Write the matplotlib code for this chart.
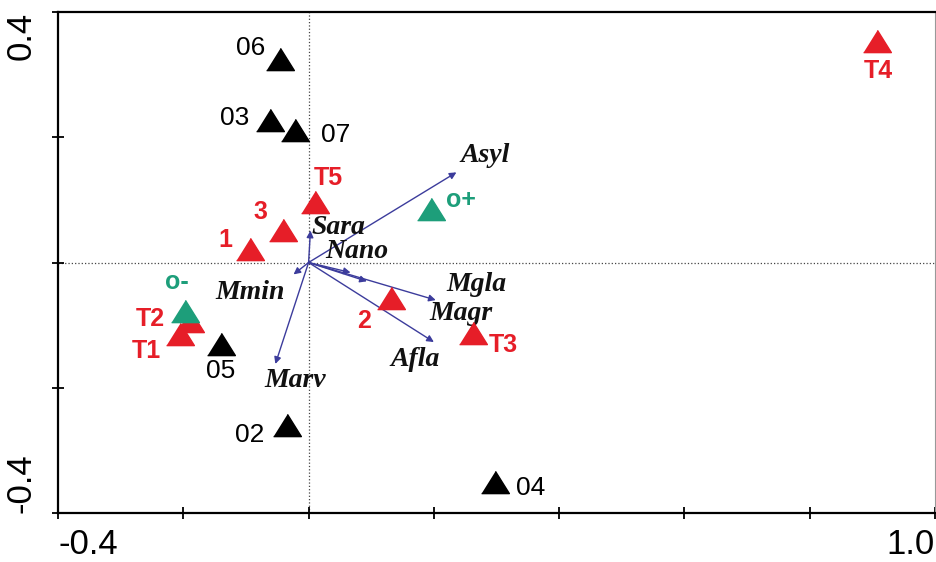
import matplotlib
matplotlib.use('Agg')
import matplotlib.pyplot as plt

# sample scores (axis 1, axis 2)
black_names = ['06', '03', '07', '05', '02', '04']
black_x = [-0.046, -0.061, -0.022, -0.140, -0.035, 0.298]
black_y = [0.325, 0.227, 0.211, -0.130, -0.260, -0.351]

red_names = ['T5', '3', '1', 'T2', 'T1', '2', 'T3', 'T4']
red_x = [0.010, -0.041, -0.093, -0.190, -0.206, 0.131, 0.262, 0.908]
red_y = [0.097, 0.052, 0.021, -0.094, -0.114, -0.056, -0.113, 0.354]

green_names = ['o+', 'o-']
green_x = [0.196, -0.198]
green_y = [0.086, -0.078]

# species arrows
species = ['Asyl', 'Sara', 'Nano', 'Magr', 'Mgla', 'Afla', 'Mmin', 'Marv']
sp_x = [0.236, 0.003, 0.067, 0.093, 0.203, 0.200, -0.024, -0.053]
sp_y = [0.144, 0.051, -0.016, -0.030, -0.060, -0.127, -0.019, -0.162]

# label offsets in pixels (layout only)
off = {'06': (-29, 11), '03': (-36, 2), '07': (41, -5), '05': (0, -27),
       '02': (-37, -10), '04': (35, -6), 'T5': (13, 24), '3': (-22, 18),
       '1': (-25, 9), 'T2': (-39, 2), 'T1': (-33, -17), '2': (-27, -23),
       'T3': (31, -12), 'T4': (1, -30), 'o+': (30, 9), 'o-': (-8, 29),
       'Asyl': (29, 17), 'Sara': (28, 3), 'Nano': (6, 21), 'Magr': (94, -32),
       'Mgla': (41, 16), 'Afla': (-19, -17), 'Mmin': (-43, -18), 'Marv': (20, -17)}

RED = '#e61e28'
GREEN = '#1d9e7a'
ARROW = '#3c3c9c'
tri = [(-1, -0.8), (1, -0.8), (0, 0.8)]

fig = plt.figure(figsize=(9.37, 5.62), dpi=100)
ax = fig.add_axes([0.0619, 0.0872, 0.936, 0.8914])
ax.set_xlim(-0.4, 1.0)
ax.set_ylim(-0.4, 0.4)

ax.axhline(0, color='#444444', lw=0.9, ls=':', zorder=1)
ax.axvline(0, color='#444444', lw=0.9, ls=':', zorder=1)

for name, x, y in zip(species, sp_x, sp_y):
    ax.annotate('', xy=(x, y), xytext=(0, 0),
                arrowprops=dict(arrowstyle='-|>', color=ARROW, lw=1.0,
                                mutation_scale=10, shrinkA=0, shrinkB=0),
                zorder=2)
    ax.annotate(name, xy=(x, y), xytext=off[name], textcoords='offset pixels',
                ha='center', va='center', fontsize=20, family='Liberation Serif',
                style='italic', weight='bold', color='#111111', zorder=3)


def draw_group(names, xs, ys, color, bold):
    ax.plot(xs, ys, ls='none', marker=tri, ms=20, color=color, mec=color, zorder=4)
    for n, x, y in zip(names, xs, ys):
        ax.annotate(n, xy=(x, y), xytext=off[n], textcoords='offset pixels',
                    ha='center', va='center', fontsize=19 if not bold else 18,
                    family='Liberation Sans',
                    weight='bold' if bold else 'normal', color=color, zorder=5)


draw_group(black_names, black_x, black_y, 'black', False)
draw_group(red_names, red_x, red_y, RED, True)
draw_group(green_names, green_x, green_y, GREEN, True)

ax.set_xticks([-0.4, -0.2, 0, 0.2, 0.4, 0.6, 0.8, 1.0])
ax.set_xticklabels(['-0.4', '', '', '', '', '', '', '1.0'])
ax.set_yticks([-0.4, -0.2, 0, 0.2, 0.4])
ax.set_yticklabels(['-0.4', '', '', '', '0.4'], rotation=90)
ax.tick_params(direction='inout', length=9, width=1.3, labelsize=25, pad=10)
ax.tick_params(axis='x', pad=6)
xl = ax.get_xticklabels()
xl[0].set_ha('left')
xl[-1].set_ha('right')
yl = ax.get_yticklabels()
yl[0].set_va('bottom')
yl[-1].set_va('top')
for t in xl + yl:
    t.set_family('Liberation Sans')

for s in ['left', 'bottom', 'top']:
    ax.spines[s].set_linewidth(1.6)
ax.spines['right'].set_linewidth(0.8)
ax.spines['right'].set_color('#999999')

fig.savefig('out.png', dpi=100)
